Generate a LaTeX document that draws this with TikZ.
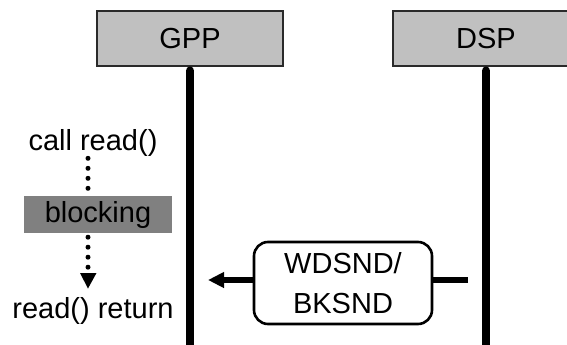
\documentclass[tikz,border=0pt]{standalone}
\usepackage{fontspec}
\setmainfont{Liberation Sans}
\usetikzlibrary{arrows.meta}
\definecolor{boxgray}{HTML}{C0C0C0}
\definecolor{blkgray}{HTML}{808080}
\definecolor{edgegray}{HTML}{2A2A2A}
\tikzset{
  txt/.style={font=\fontsize{29}{40}\selectfont, inner sep=0pt, text=black},
  procbox/.style={txt, draw=edgegray, line width=1.4pt, fill=boxgray, minimum width=186pt, minimum height=55pt},
  lifeline/.style={line width=8.5pt, line cap=round},
  blkbox/.style={txt, fill=blkgray, minimum width=148pt, minimum height=37pt},
  msgbox/.style={txt, draw=black, line width=2.6pt, rounded corners=14pt, fill=white, minimum width=178pt, minimum height=82pt, align=center},
  msgline/.style={line width=5.5pt},
  dotline/.style={line width=5pt, line cap=round, dash pattern=on 0pt off 10pt},
}
\begin{document}
\begin{tikzpicture}[x=1pt, y=-1pt]
\useasboundingbox (0,0) rectangle (567,345);
\clip (0,0) rectangle (567,345);
% processor boxes
\node[procbox] (gpp) at (190,38.5) {GPP};
\node[procbox] (dsp) at (486,38.5) {DSP};
% lifelines
\coordinate (gppend) at (190,360);
\coordinate (dspend) at (486,360);
\draw[lifeline] ([yshift=-4pt]gpp.south) -- (gppend);
\draw[lifeline] ([yshift=-4pt]dsp.south) -- (dspend);
% left side
\node[txt] (call) at (93,143) {call read()};
\node[blkbox] (blk) at (98,214.5) {blocking};
\node[txt] (ret) at (93,311) {read() return};
\coordinate (dx) at (88,0);
\draw[dotline] ([yshift=37.5pt]blk.north -| dx) -- ([yshift=7pt]blk.north -| dx);
\draw[dotline] ([yshift=-4pt]blk.south -| dx) -- ([yshift=-34.5pt]blk.south -| dx);
\coordinate (tipt) at (88,288.5);
\fill (80,273) -- (96.5,273) -- (tipt) -- cycle;
% message
\node[msgbox] (msg) at (343,283) {WDSND/\\BKSND};
\coordinate (dspm) at (468,280);
\coordinate (gppm) at (208,280);
\draw[msgline] (dspm) -- (msg.east |- dspm);
\draw[msgline, -{Triangle[length=16pt, width=15pt]}] (msg.west |- dspm) -- (gppm);
\end{tikzpicture}
\end{document}
